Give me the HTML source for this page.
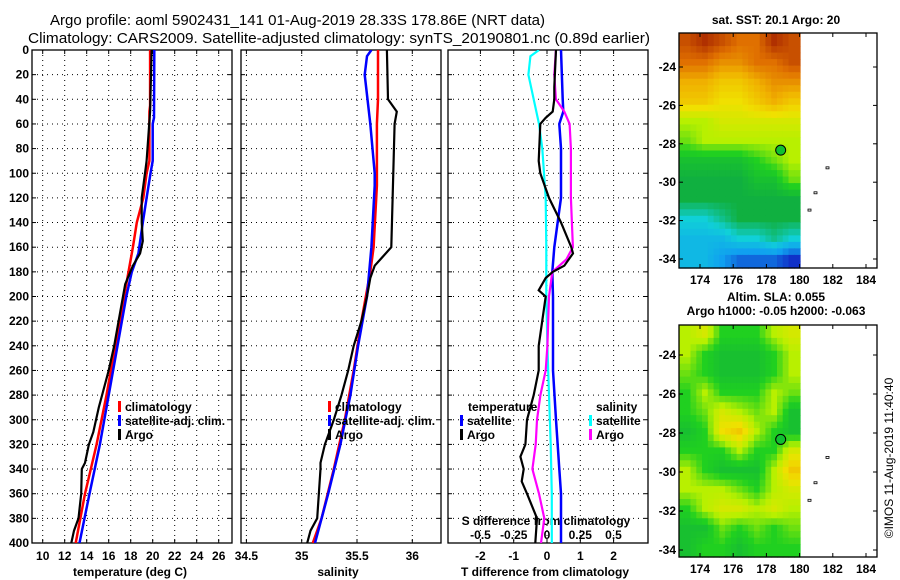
<!DOCTYPE html>
<html><head><meta charset="utf-8"><style>
html,body{margin:0;padding:0;background:#fff}
svg{display:block;font-family:"Liberation Sans",sans-serif;font-weight:bold}
</style></head><body>
<svg id="chart" width="900" height="580" viewBox="0 0 900 580" xmlns="http://www.w3.org/2000/svg">
<rect width="900" height="580" fill="#fff"/>
<text x="50" y="25" font-size="15" font-weight="normal" textLength="495" lengthAdjust="spacingAndGlyphs">Argo profile: aoml 5902431_141 01-Aug-2019 28.33S 178.86E (NRT data)</text>
<text x="28" y="43" font-size="15" font-weight="normal" textLength="622" lengthAdjust="spacingAndGlyphs">Climatology: CARS2009. Satellite-adjusted climatology: synTS_20190801.nc (0.89d earlier)</text>
<defs>
<clipPath id="c1"><rect x="32" y="50" width="200" height="493"/></clipPath>
<clipPath id="c2"><rect x="241" y="50" width="200" height="493"/></clipPath>
<clipPath id="c3"><rect x="448" y="50" width="200" height="493"/></clipPath>
</defs>
<g id="g1"></g>
<g id="g2"></g>
<g id="g3"></g>
<g id="m1"></g>
<g id="m2"></g>
<text transform="translate(893,458) rotate(-90)" font-size="12" font-weight="normal" text-anchor="middle">©IMOS 11-Aug-2019 11:40:40</text>
</svg>
<script>
// ---- data ----
const tArgoP=[0,50,90,100,120,140,155,165,175,190,200,220,240,260,280,290,310,320,335,340,360,380,390,400];
const tArgo=[19.9,19.76,19.45,19.3,19.0,19.0,19.1,18.85,18.2,17.5,17.3,16.9,16.5,16.0,15.4,15.1,14.6,14.2,13.85,13.55,13.5,13.25,12.85,12.6];
const tClimP=[0,45,50,90,100,120,140,160,180,200,240,280,320,360,400];
const tClim=[19.76,19.76,19.7,19.7,19.45,19.15,18.55,18.2,17.8,17.4,16.6,15.8,14.9,13.85,13.0];
const tSatP=[0,55,60,90,100,120,140,165,180,200,240,280,320,360,400];
const tSat=[20.15,20.12,20.0,20.0,19.8,19.45,19.1,18.7,18.1,17.6,16.8,16.0,15.2,14.25,13.35];
const sArgoP=[0,40,50,60,160,175,185,200,220,240,260,280,300,320,335,340,380,390,400];
const sArgo=[35.77,35.78,35.86,35.84,35.81,35.66,35.62,35.59,35.54,35.47,35.42,35.36,35.29,35.21,35.17,35.17,35.14,35.08,35.05];
const sClimP=[0,40,60,110,160,180,220,260,300,340,380,400];
const sClim=[35.69,35.69,35.68,35.68,35.65,35.62,35.54,35.47,35.39,35.29,35.18,35.10];
const sSatP=[0,5,20,60,100,110,160,200,240,280,320,360,400];
const sSat=[35.63,35.59,35.57,35.62,35.66,35.66,35.63,35.59,35.51,35.44,35.35,35.24,35.12];
const dTsatP=[0,40,50,60,80,120,130,160,180,200,260,300,340,360,400];
const dTsat=[0.42,0.47,0.49,0.37,0.42,0.42,0.37,0.22,0.16,0.18,0.18,0.27,0.37,0.42,0.42];
const dTargoP=[0,30,40,50,55,60,90,100,120,140,160,165,175,180,185,195,200,240,260,280,300,320,330,340,350,360,380,400];
const dTargo=[0.27,0.22,0.22,0.17,-0.04,-0.2,-0.25,-0.2,0.06,0.42,0.73,0.78,0.52,0.17,-0.04,-0.25,-0.04,-0.25,-0.25,-0.4,-0.6,-0.65,-0.8,-0.7,-0.76,-0.6,-0.3,-0.35];
const dSsatP=[0,5,20,40,60,80,120,160,200,240,280,320,360,400];
const dSsat=[-0.06,-0.125,-0.14,-0.1,-0.06,-0.035,-0.01,-0.005,-0.005,0.003,0.015,0.028,0.036,0.036];
const dSargoP=[0,20,40,50,60,80,120,160,170,180,200,240,260,280,300,320,340,360,380,400];
const dSargo=[0.067,0.055,0.067,0.13,0.17,0.18,0.18,0.195,0.145,0.04,0.015,0.003,-0.01,-0.05,-0.075,-0.085,-0.11,-0.06,-0.02,-0.045];
const pTicks=[0,20,40,60,80,100,120,140,160,180,200,220,240,260,280,300,320,340,360,380,400];
const tTicks=[10,12,14,16,18,20,22,24,26];
const sTicks=[34.5,35,35.5,36];
const sTickLabels=["34.5","35","35.5","36"];
const dTTicks=[-2,-1,0,1,2];
const dSTicks=[-0.5,-0.25,0,0.25,0.5];
const dSTickLabels=["-0.5","-0.25","0","0.25","0.5"];
const latTicks=[-24,-26,-28,-30,-32,-34];
const lonTicks=[174,176,178,180,182,184];
const sstGrid=[
[8.5,9,8.5,8,8,9,8.5],
[8,8,7.5,7.5,8,8,8.5],
[7,7,6.5,6.5,7,7.5,7.5],
[6.5,6.5,6,6,6.5,7,6.5],
[5,5,5.5,5.5,5.5,5.5,5.5],
[4.5,5,5,5,5,5,5],
[3.5,3.5,3.5,3.5,4,4.5,5],
[3,3,3,3,3.5,3.5,4.5],
[3,3,3,3,3,3,3],
[2,2,2.5,3,3,3,3],
[1.5,1.5,1.5,2,2,2.5,2],
[1.5,1.5,1,0.5,0.5,0.5,0]];
const slaGrid=[
[5,5.5,4,4,4,5,5.5],
[5,4,3.5,3.5,3.5,4,5],
[4.5,4,3.5,3.5,3.5,4,5],
[4,5,4,4,4,5,4.5],
[4,4.5,5.5,5,4.5,5,3.5],
[3.5,4,6,6.5,5,4,3.5],
[4,4,4,5,4,4,5.5],
[5,4,3.5,3.5,3.5,5,6.5],
[5,5,5,4.5,4,5,5.5],
[4,5,5.5,5.5,5,5.5,5],
[3.5,3.5,4.5,4,4.5,4,4.5],
[3.5,4,4,3.5,4,4,4]];
const argoLon=178.86, argoLat=-28.33;

// ---- scales ----
const yP=p=>50+p*1.2325;
const xT=t=>42.7+(t-10)*11;
const xS=s=>301.7+(s-35)*110.6;
const xdT=d=>547+d*33.3;
const xdS=d=>547+d*133;
const NS='http://www.w3.org/2000/svg';
function mk(parent,tag,attrs){const e=document.createElementNS(NS,tag);for(const k in attrs)e.setAttribute(k,attrs[k]);parent.appendChild(e);return e;}
function txt(parent,x,y,s,size,anchor){const e=mk(parent,'text',{x:x,y:y,'font-size':size,'text-anchor':anchor||'middle'});e.textContent=s;return e;}
function line(parent,pv,xv,xf,color,w,clip,name){
  const pts=pv.map((p,i)=>xf(xv[i]).toFixed(1)+','+yP(p).toFixed(1)).join(' ');
  const e=mk(parent,'polyline',{points:pts,fill:'none',stroke:color,'stroke-width':w,'clip-path':'url(#'+clip+')'});
  
  
}
function frame(g,x0,name){
  const f=mk(g,'rect',{x:x0,y:50,width:200,height:493,fill:'none',stroke:'#000','stroke-width':1.3});
  
  
  pTicks.forEach(p=>{
    const y=yP(p);
    if(p>0&&p<400){const gl=mk(g,'line',{x1:x0,x2:x0+200,y1:y,y2:y,stroke:'#000','stroke-dasharray':'1 4','stroke-width':1});
    
    }
    mk(g,'line',{x1:x0,x2:x0+4,y1:y,y2:y,stroke:'#000'});
    mk(g,'line',{x1:x0+196,x2:x0+200,y1:y,y2:y,stroke:'#000'});
  });
}
function vgrid(g,vals,xf){vals.forEach(v=>{const x=xf(v);
  const gl=mk(g,'line',{x1:x,x2:x,y1:50,y2:543,stroke:'#000','stroke-dasharray':'1 4','stroke-width':1});
  
  
  mk(g,'line',{x1:x,x2:x,y1:50,y2:54,stroke:'#000'});mk(g,'line',{x1:x,x2:x,y1:539,y2:543,stroke:'#000'});});}
function legendMark(g,x,y,color){const r=mk(g,'rect',{x:x,y:y-10,width:3,height:11,fill:color});
  
  }

// ---- panel 1 ----
const g1=document.getElementById('g1');
frame(g1,32,'temperature-frame');vgrid(g1,tTicks,xT);
pTicks.forEach(p=>{const t=txt(g1,29,yP(p)+4,String(p),12,'end');
  
  });
tTicks.forEach(v=>{const t=txt(g1,xT(v),560,String(v),12);
  
  });
const xt1=txt(g1,130,576,'temperature (deg C)',12);


line(g1,tClimP,tClim,xT,'#ff0000',2.5,'c1','climatology-line');
line(g1,tSatP,tSat,xT,'#0000ff',2.5,'c1','satellite-line');
line(g1,tArgoP,tArgo,xT,'#000',2.2,'c1','argo-line');
[['climatology','#f00',411],['satellite-adj. clim.','#00f',425],['Argo','#000',439]].forEach(l=>{
  legendMark(g1,118,l[2],l[1]);const t=txt(g1,125,l[2],l[0],12,'start');
  
  });

// ---- panel 2 ----
const g2=document.getElementById('g2');
frame(g2,241,'salinity-frame');vgrid(g2,sTicks,xS);
sTicks.forEach((v,i)=>{const t=txt(g2,xS(v),560,sTickLabels[i],12);
  
  });
const xt2=txt(g2,338,576,'salinity',12);


line(g2,sClimP,sClim,xS,'#ff0000',2.5,'c2','climatology-line');
line(g2,sSatP,sSat,xS,'#0000ff',2.5,'c2','satellite-line');
line(g2,sArgoP,sArgo,xS,'#000',2.2,'c2','argo-line');
[['climatology','#f00',411],['satellite-adj. clim.','#00f',425],['Argo','#000',439]].forEach(l=>{
  legendMark(g2,328,l[2],l[1]);const t=txt(g2,335,l[2],l[0],12,'start');
  
  });

// ---- panel 3 ----
const g3=document.getElementById('g3');
frame(g3,448,'difference-frame');vgrid(g3,dTTicks,xdT);
dTTicks.forEach(v=>{const t=txt(g3,xdT(v),560,String(v),12);
  
  });
dSTicks.forEach((v,i)=>{const t=txt(g3,xdS(v),539,dSTickLabels[i],12);
  
  });
const st3=txt(g3,546,525,'S difference from climatology',12);


const xt3=txt(g3,545,576,'T difference from climatology',12);


line(g3,dSsatP,dSsat,xdS,'#00ffff',2.2,'c3','salinity-satellite-diff-line');
line(g3,dTsatP,dTsat,xdT,'#0000ff',2.5,'c3','temperature-satellite-diff-line');
line(g3,dSargoP,dSargo,xdS,'#ff00ff',2.2,'c3','salinity-argo-diff-line');
line(g3,dTargoP,dTargo,xdT,'#000',2.2,'c3','temperature-argo-diff-line');
const lt=txt(g3,468,411,'temperature',12,'start');


const ls=txt(g3,596,411,'salinity',12,'start');


[['satellite','#00f',425,460],['Argo','#000',439,460],['satellite','#0ff',425,589],['Argo','#f0f',439,589]].forEach(l=>{
  legendMark(g3,l[3],l[2],l[1]);const t=txt(g3,l[3]+7,l[2],l[0],12,'start');
  
  });

// ---- maps ----
const stops=['#1030c8','#10a0f0','#10d0d8','#10b040','#20d020','#b8f000','#f0e000','#f0b000','#e07000','#b03000'];
function hex(c){return [1,3,5].map(i=>parseInt(c.substr(i,2),16));}
function cmap(v){v=Math.max(0,Math.min(9,v));const i=Math.min(8,Math.floor(v)),f=v-i;const a=hex(stops[i]),b=hex(stops[i+1]);
  return 'rgb('+a.map((x,k)=>Math.round(x+(b[k]-x)*f)).join(',')+')';}
function sample(grid,fr,fc){ // bilinear sample at fractional cell-centre coords
  const R=grid.length,C=grid[0].length;
  fr=Math.max(0,Math.min(R-1,fr));fc=Math.max(0,Math.min(C-1,fc));
  const r0=Math.floor(fr),c0=Math.floor(fc),r1=Math.min(R-1,r0+1),c1=Math.min(C-1,c0+1),a=fr-r0,b=fc-c0;
  return grid[r0][c0]*(1-a)*(1-b)+grid[r0][c1]*(1-a)*b+grid[r1][c0]*a*(1-b)+grid[r1][c1]*a*b;
}
function drawMap(id,grid,top,bot,latTopPx,latScale,title,titleY){
  const g=document.getElementById(id);
  const lonX=l=>700+(l-174)*16.6;
  const latY=l=>latTopPx+(-24-l)*latScale;
  const SUB=3,R=grid.length,C=grid[0].length;
  const cw=(800-679)/(C*SUB),ch=(bot-top)/(R*SUB);
  for(let r=0;r<R*SUB;r++)for(let c=0;c<C*SUB;c++){
    const v=sample(grid,(r+0.5)/SUB-0.5,(c+0.5)/SUB-0.5);
    const cell=mk(g,'rect',{x:(679+c*cw).toFixed(1),y:(top+r*ch).toFixed(1),width:(cw+0.6).toFixed(1),height:(ch+0.6).toFixed(1),fill:cmap(v)});
    
    
  }
  [[826,-29.2],[814,-30.5],[808,-31.4]].forEach(p=>{const il=mk(g,'rect',{x:p[0],y:latY(p[1]),width:3,height:2,fill:'none',stroke:'#000','stroke-width':0.8});
    
    });
  const fr=mk(g,'rect',{x:679,y:top,width:198,height:bot-top,fill:'none',stroke:'#000','stroke-width':1.3});
  
  
  latTicks.forEach(l=>{const y=latY(l);mk(g,'line',{x1:679,x2:683,y1:y,y2:y,stroke:'#000'});mk(g,'line',{x1:873,x2:877,y1:y,y2:y,stroke:'#000'});
    const t=txt(g,676,y+4,String(l),12,'end');
    
    });
  lonTicks.forEach(l=>{const x=lonX(l);mk(g,'line',{x1:x,x2:x,y1:top,y2:top+4,stroke:'#000'});mk(g,'line',{x1:x,x2:x,y1:bot-4,y2:bot,stroke:'#000'});
    const t=txt(g,x,bot+16,String(l),12);
    
    });
  const m=mk(g,'circle',{cx:lonX(argoLon),cy:latY(argoLat),r:5,fill:'#10c030',stroke:'#000','stroke-width':1});
  
  
  title.forEach((s,i)=>{const t=txt(g,776,titleY[i],s,12);
    
    });
}
drawMap('m1',sstGrid,33,268,67,19.2,['sat. SST: 20.1 Argo: 20'],[24]);
drawMap('m2',slaGrid,325,557,355,19.5,['Altim. SLA: 0.055','Argo h1000: -0.05 h2000: -0.063'],[301,315]);
</script>
</body></html>
